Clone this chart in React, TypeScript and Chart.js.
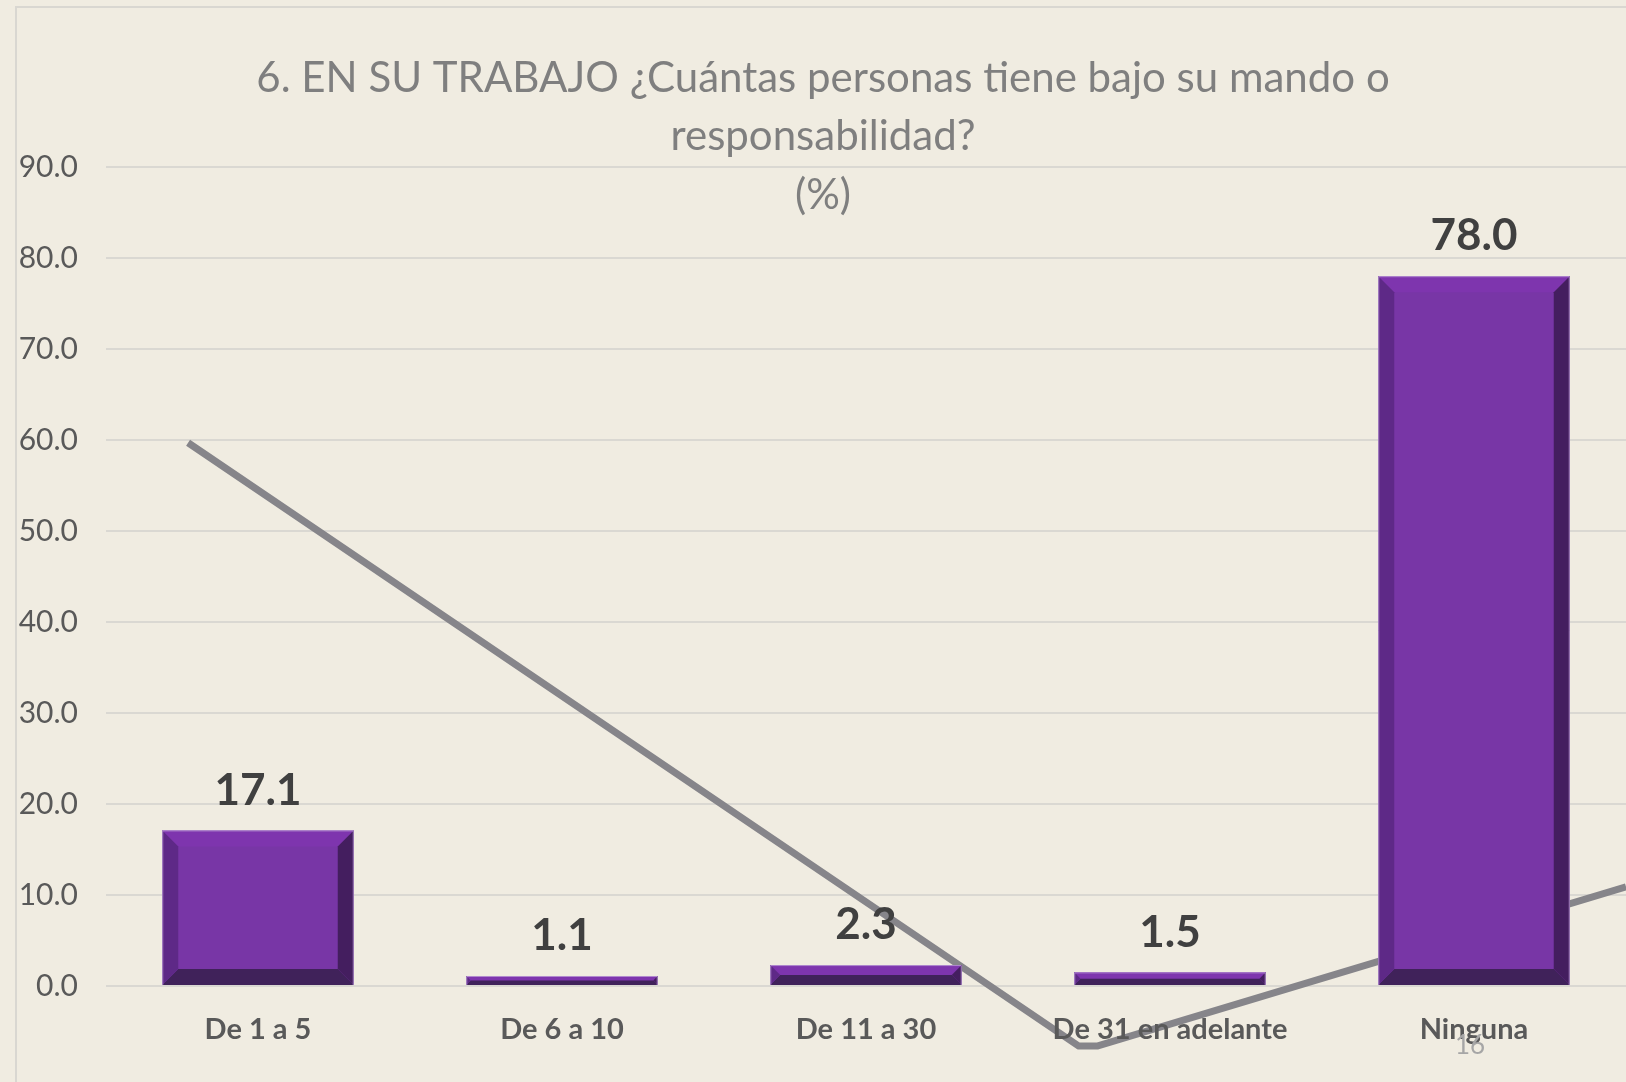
import React, { useEffect, useRef } from "react";
import { Chart, registerables } from "chart.js";

Chart.register(...registerables);

// ---- data ----
const categories = ["De 1 a 5", "De 6 a 10", "De 11 a 30", "De 31 en adelante", "Ninguna"];
const percentages = [17.1, 1.1, 2.3, 1.5, 78.0];
const yTickMin = 0;
const yTickMax = 90;
const yTickStep = 10;
const titleLines = [
  "6. EN SU TRABAJO ¿Cuántas personas tiene bajo su mando o",
  "responsabilidad?",
  "(%)",
];
const slideNumber = "16";
// decorative grey line of the slide (x in category-index units, y in %)
const decoLineX = [-0.23, 2.7, 2.76, 4.5];
const decoLineY = [59.7, -6.6, -6.6, 10.9];

const W = 1626;
const H = 1082;

const bevelPlugin = {
  id: "bevelBars",
  afterDatasetDraw(chart: any, args: any) {
    if (args.index !== 0) return;
    const ctx = chart.ctx;
    const meta = chart.getDatasetMeta(0);
    ctx.save();
    meta.data.forEach((bar: any) => {
      const p = bar.getProps(["x", "y", "base", "width"], true);
      const L = p.x - p.width / 2;
      const R = p.x + p.width / 2;
      const T = Math.min(p.y, p.base);
      const B = Math.max(p.y, p.base);
      const b = Math.min(16, (B - T) / 2, p.width / 2);
      const poly = (pts: number[][], c: string) => {
        ctx.beginPath();
        ctx.moveTo(pts[0][0], pts[0][1]);
        for (let i = 1; i < pts.length; i++) ctx.lineTo(pts[i][0], pts[i][1]);
        ctx.closePath();
        ctx.fillStyle = c;
        ctx.fill();
      };
      poly([[L, T], [R, T], [R - b, T + b], [L + b, T + b]], "#7E35AE");
      poly([[L, B], [R, B], [R - b, B - b], [L + b, B - b]], "#40225A");
      poly([[L, T], [L + b, T + b], [L + b, B - b], [L, B]], "#5E2987");
      poly([[R, T], [R - b, T + b], [R - b, B - b], [R, B]], "#441E5F");
      ctx.strokeStyle = "rgba(190,160,215,0.8)";
      ctx.lineWidth = 1;
      ctx.beginPath();
      ctx.moveTo(L + 0.5, B);
      ctx.lineTo(L + 0.5, T + 0.5);
      ctx.lineTo(R - 0.5, T + 0.5);
      ctx.lineTo(R - 0.5, B);
      ctx.stroke();
    });
    ctx.restore();
  },
  afterDatasetsDraw(chart: any) {
    const ctx = chart.ctx;
    const meta = chart.getDatasetMeta(0);
    ctx.save();
    ctx.font = "bold 44px Lato";
    ctx.fillStyle = "#404040";
    ctx.textAlign = "center";
    ctx.textBaseline = "middle";
    meta.data.forEach((bar: any, i: number) => {
      ctx.fillText(percentages[i].toFixed(1), bar.x, bar.y - 40);
    });
    ctx.restore();
  },
  afterDraw(chart: any) {
    const ctx = chart.ctx;
    ctx.save();
    ctx.font = "42px Lato";
    ctx.fillStyle = "#7F7F7F";
    ctx.textAlign = "center";
    ctx.textBaseline = "middle";
    const ys = [78, 136, 195];
    titleLines.forEach((t, i) => ctx.fillText(t, 823, ys[i]));
    ctx.font = "26px Lato";
    ctx.fillStyle = "#A6A6A6";
    ctx.fillText(slideNumber, 1470, 1046);
    ctx.restore();
  },
};

export default function App() {
  const ref = useRef<HTMLCanvasElement | null>(null);
  useEffect(() => {
    document.body.style.margin = "0";
    const canvas = ref.current;
    if (!canvas) return;
    const chart = new Chart(canvas, {
      type: "bar",
      data: {
        labels: categories,
        datasets: [
          {
            type: "bar",
            data: percentages,
            backgroundColor: "#7836A6",
            borderWidth: 0,
            barPercentage: 0.63,
            categoryPercentage: 1,
            grouped: false,
            order: 1,
            xAxisID: "x",
            yAxisID: "y",
          } as any,
          {
            type: "line",
            data: decoLineX.map((x, i) => ({ x, y: decoLineY[i] })),
            xAxisID: "xLine",
            yAxisID: "y",
            borderColor: "#86858A",
            borderWidth: 7,
            pointRadius: 0,
            tension: 0,
            clip: false,
            order: 2,
            borderJoinStyle: "round",
          } as any,
        ],
      },
      options: {
        responsive: false,
        animation: false,
        layout: { padding: { top: 167, left: 0, right: 0, bottom: 0 } },
        plugins: {
          legend: { display: false },
          title: { display: false },
          tooltip: { enabled: false },
        },
        scales: {
          x: {
            type: "category",
            offset: true,
            grid: { display: false },
            border: { display: false },
            ticks: {
              z: 1,
              font: { family: "Lato", size: 29, weight: "bold" },
              color: "#595959",
              padding: 18,
              maxRotation: 0,
              autoSkip: false,
            },
            afterFit: (s: any) => {
              s.height = H - 986;
            },
          },
          xLine: {
            type: "linear",
            display: false,
            offset: false,
            min: -0.5,
            max: 4.5,
            grid: { offset: false },
          },
          y: {
            min: yTickMin,
            max: yTickMax,
            ticks: {
              stepSize: yTickStep,
              callback: (v: any) => Number(v).toFixed(1),
              font: { family: "Lato", size: 30 },
              color: "#595959",
              padding: 28,
            },
            grid: { color: "#DAD8D2", lineWidth: 2, drawTicks: false },
            border: { display: false },
            afterFit: (s: any) => {
              s.width = 106;
            },
          },
        } as any,
      },
      plugins: [bevelPlugin],
    });
    return () => chart.destroy();
  }, []);

  return (
    <div
      style={{
        position: "fixed",
        left: 0,
        top: 0,
        width: W,
        height: H,
        background: "#F0ECE1",
        overflow: "hidden",
      }}
    >
      <div
        style={{
          position: "absolute",
          left: 15,
          top: 6,
          width: 3000,
          height: 3000,
          borderLeft: "2px solid #D9D7D1",
          borderTop: "2px solid #D9D7D1",
        }}
      />
      <canvas
        ref={ref}
        width={W}
        height={H}
        style={{ position: "absolute", left: 0, top: 0, display: "block" }}
      />
    </div>
  );
}
